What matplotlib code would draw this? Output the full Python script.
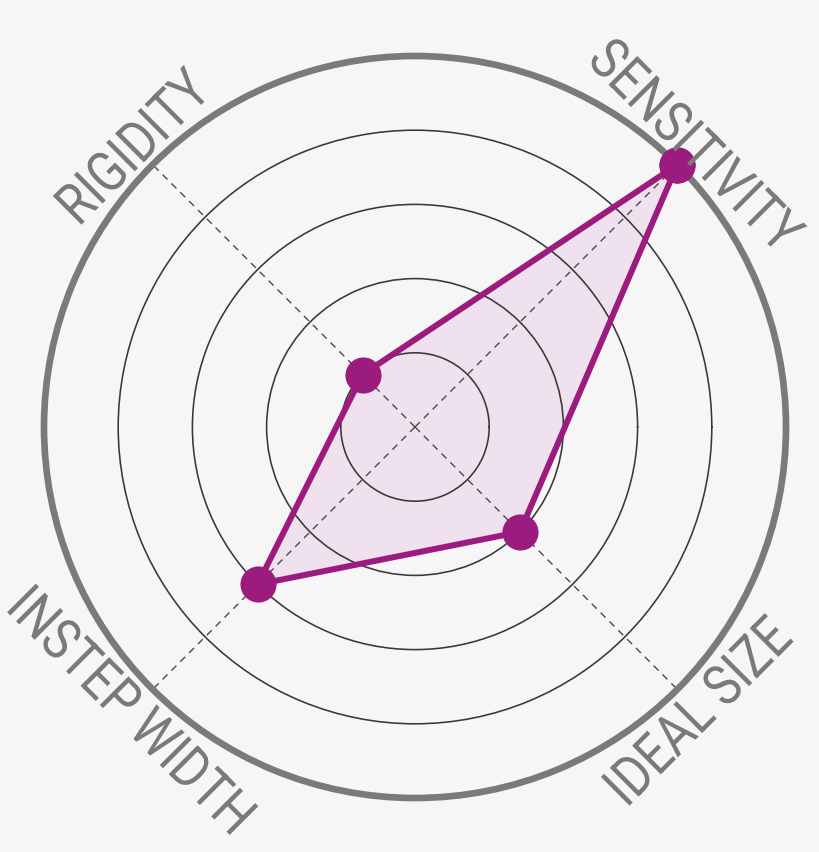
import numpy as np
import matplotlib
matplotlib.use("Agg")
import matplotlib.pyplot as plt
from matplotlib.textpath import TextPath
from matplotlib.patches import PathPatch
from matplotlib.font_manager import FontProperties
from matplotlib.transforms import Affine2D

# chart data
categories = ["SENSITIVITY", "RIGIDITY", "INSTEP WIDTH", "IDEAL SIZE"]
angles_deg = [45, 135, 225, 315]
values = [5, 1, 3, 2]
rings = [1, 2, 3, 4]
r_max = 5

bg = "#f6f6f6"
purple = "#9b1b7e"
fill_col = "#efe1ee"
text_col = "#7a7a7a"

fig = plt.figure(figsize=(8.2, 8.52), dpi=100, facecolor=bg)
ax = fig.add_axes([44 / 820, 54 / 852, 742 / 820, 742 / 852], projection="polar")
ax.set_facecolor(bg)
ax.set_ylim(0, r_max)

# rings and dashed spokes
ax.set_rgrids(rings, labels=[])
ax.yaxis.grid(True, color="#383838", linewidth=1.15, linestyle="-")
ax.set_thetagrids(angles_deg, labels=[])
ax.xaxis.grid(True, color="#4a4a4a", linewidth=1.0, linestyle=(0, (5, 4)))
ax.spines["polar"].set_color("#7a7a7a")
ax.spines["polar"].set_linewidth(4.8)
ax.spines["polar"].set_capstyle("round")
ax.tick_params(length=0)

theta = np.deg2rad(angles_deg)
th_closed = np.append(theta, theta[0])
v_closed = np.append(values, values[0])
ax.fill(th_closed, v_closed, color=fill_col, zorder=1)
ax.plot(th_closed, v_closed, color=purple, linewidth=4.3, zorder=5,
        marker="o", markersize=26, markerfacecolor=purple, markeredgewidth=0,
        clip_on=False)

# condensed labels drawn as paths, tangent to the outer ring
fp = FontProperties(family="Roboto", weight="normal")
fig.canvas.draw()
for name, a in zip(categories, angles_deg):
    rot = -45 if a in (45, 225) else 45
    tp = TextPath((0, 0), name, size=57, prop=fp)
    ext = tp.get_extents()
    cx = (ext.x0 + ext.x1) / 2
    cy = (ext.y0 + ext.y1) / 2
    px, py = ax.transData.transform((np.deg2rad(a), 5.38))
    tr = (Affine2D().translate(-cx, -cy).scale(0.84, 1.0)
          .rotate_deg(rot).translate(px, py))
    patch = PathPatch(tp, facecolor=text_col, edgecolor="none", transform=tr)
    fig.add_artist(patch)

fig.savefig("out.png", dpi=100, facecolor=bg)
